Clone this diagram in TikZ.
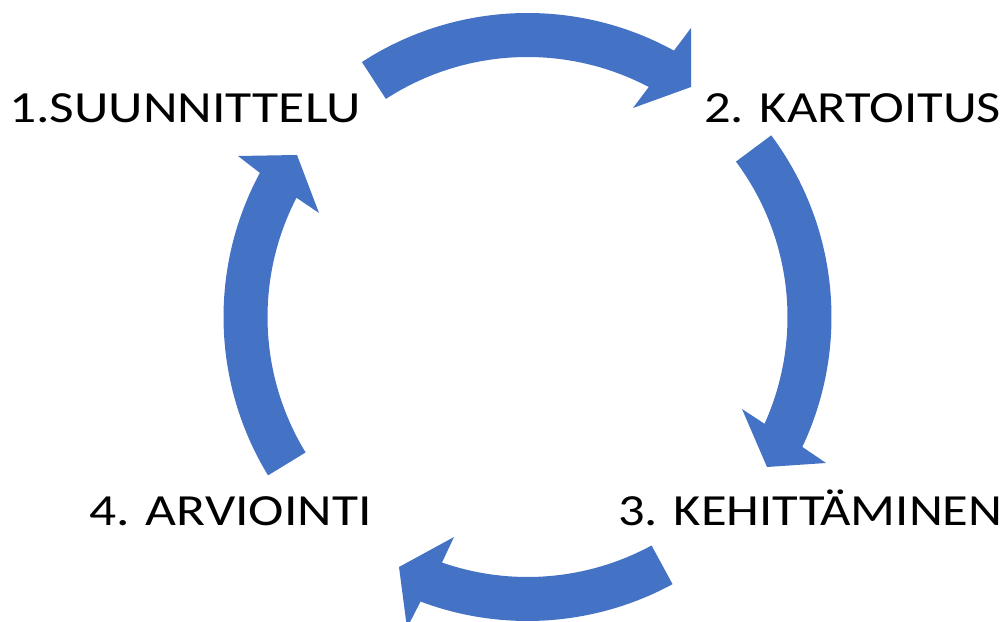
\documentclass[tikz,border=0pt]{standalone}
\usepackage{fontspec}
\usepackage{graphicx}
\setmainfont{Carlito}
\usetikzlibrary{calc}
\definecolor{arrowblue}{HTML}{4472C4}
\newcommand\widetext[2][1.18]{\scalebox{#1}[1]{#2}}
\begin{document}
\begin{tikzpicture}[x=1pt,y=1pt,
  blockarrow/.style={fill=arrowblue, draw=none},
  steplabel/.style={inner sep=0pt, font=\fontsize{44.5}{53}\selectfont, text=black}]
\useasboundingbox (0,0) rectangle (1006,621);
\clip (0,0) rectangle (1006,621);
\coordinate (c) at (527.5,304);
% top arrow
\coordinate (t1i) at ($(c)+(62.2:260pt)$);
\fill[blockarrow] (c) ++(123:304pt) arc[start angle=123,end angle=61.2,radius=304pt]
  -- (691,593) -- (691,534) -- (633,513) -- (t1i)
  arc[start angle=62.2,end angle=123,radius=260pt] -- cycle;
% right arrow
\coordinate (t2i) at ($(c)+(-24.25:260pt)$);
\fill[blockarrow] (c) ++(36.7:304pt) arc[start angle=36.7,end angle=-25.3,radius=304pt]
  -- (826,158) -- (767,154) -- (742,212) -- (t2i)
  arc[start angle=-24.25,end angle=36.7,radius=260pt] -- cycle;
% bottom arrow
\coordinate (t3i) at ($(c)+(-109.2:260pt)$);
\fill[blockarrow] (c) ++(-61.5:304pt) arc[start angle=-61.5,end angle=-110.6,radius=304pt]
  -- (407,-7) -- (399,54) -- (454,84) -- (t3i)
  arc[start angle=-109.2,end angle=-61.5,radius=260pt] -- cycle;
% left arrow
\coordinate (t4i) at ($(c)+(152.7:260pt)$);
\fill[blockarrow] (c) ++(211.4:304pt) arc[start angle=211.4,end angle=151.7,radius=304pt]
  -- (238,465) -- (297,466) -- (319,408) -- (t4i)
  arc[start angle=152.7,end angle=211.4,radius=260pt] -- cycle;
% labels
\node[steplabel, anchor=base west] (s1) at (9,498) {\widetext[1.204]{1.SUUNNITTELU}};
\node[steplabel, anchor=base west] (s2) at (704,498) {\widetext{2. KARTOITUS}};
\node[steplabel, anchor=base west] (s3) at (618,95) {\widetext{3. KEHITTÄMINEN}};
\node[steplabel, anchor=base west] (s4) at (89,95) {\widetext[1.20]{4. ARVIOINTI}};
\end{tikzpicture}
\end{document}
